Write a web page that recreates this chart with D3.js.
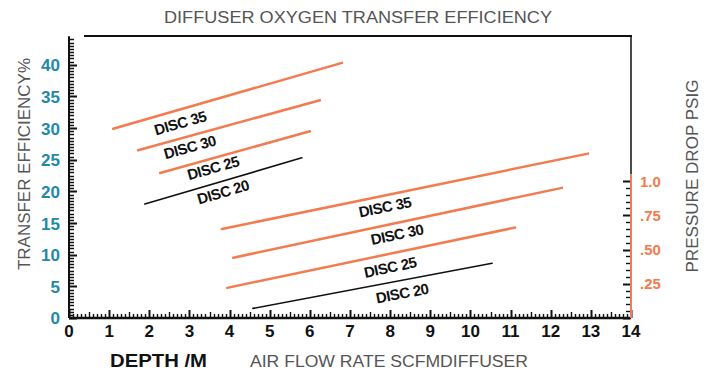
<!DOCTYPE html>
<html><head><meta charset="utf-8">
<script src="https://cdn.jsdelivr.net/npm/d3@7/dist/d3.min.js"></script>
<style>
body{margin:0;background:#fff;}
svg{display:block;font-family:"Liberation Sans",Arial,sans-serif;}
</style></head>
<body>
<svg id="c" width="706" height="373"></svg>
<script>
// ---- data ----
const seriesNames = ["DISC 35", "DISC 30", "DISC 25", "DISC 20"];
const seriesColors = ["#f37b4f", "#f37b4f", "#f37b4f", "#111111"];
// Transfer efficiency vs depth (m)
const depthStart = [1.10, 1.72, 2.27, 1.89];
const depthEnd = [6.80, 6.25, 6.00, 5.80];
const efficiencyStart = [29.9, 26.5, 22.9, 18.0];
const efficiencyEnd = [40.3, 34.4, 29.5, 25.3];
// Pressure drop vs air flow rate (scfm/diffuser)
const flowStart = [3.81, 4.09, 3.94, 4.58];
const flowEnd = [12.93, 12.28, 11.11, 10.54];
const pressureStart = [0.65, 0.44, 0.22, 0.07];
const pressureEnd = [1.20, 0.95, 0.66, 0.40];
// tick labels
const xTicks = [0,1,2,3,4,5,6,7,8,9,10,11,12,13,14];
const efficiencyTicks = [0,5,10,15,20,25,30,35,40];
const pressureTicks = [0.25, 0.50, 0.75, 1.0];
const pressureTickLabels = [".25", ".50", ".75", "1.0"];
// label anchors (data units)
const upperLabelX = [2.77, 3.01, 3.59, 3.84];
const upperLabelY = [30.8, 27.0, 23.7, 19.9];
const lowerLabelX = [7.87, 8.17, 8.00, 8.30];
const lowerLabelY = [0.81, 0.61, 0.37, 0.18];

// ---- layout ----
const svg = d3.select("#c");
const X0 = 69, X1 = 631, Y0 = 318;
const x = d3.scaleLinear().domain([0,14]).range([X0, X1]);
const y = d3.scaleLinear().domain([0,44.5]).range([Y0, Y0 - 44.5*6.33]);
const p = d3.scaleLinear().domain([0,1.05]).range([Y0, Y0 - 1.05*137]);

const teal = "#2389a5", orange = "#f37b4f", gray = "#555";

// title
svg.append("text").attr("x", 358).attr("y", 23).attr("text-anchor","middle")
  .attr("font-size", 16).attr("fill", gray)
  .attr("textLength", 388).attr("lengthAdjust","spacingAndGlyphs")
  .text("DIFFUSER OXYGEN TRANSFER EFFICIENCY");

// frame: top and right (upper part)
svg.append("line").attr("x1", 84).attr("x2", X1+1).attr("y1", 36).attr("y2", 36)
  .attr("stroke","#111").attr("stroke-width",2);
svg.append("line").attr("x1", X1).attr("x2", X1).attr("y1", 36).attr("y2", p(1.05))
  .attr("stroke","#111").attr("stroke-width",1.5);

// left axis line + ticks (inward)
svg.append("line").attr("x1", X0).attr("x2", X0).attr("y1", y(0)).attr("y2", y(44.5))
  .attr("stroke","#111").attr("stroke-width",2);
svg.append("g").selectAll("line").data(d3.range(0, 89, 1)).join("line")
  .attr("x1", X0).attr("x2", d => X0 + (d % 10 === 0 ? 8 : 5))
  .attr("y1", d => Math.round(y(d/2)) + 0.5).attr("y2", d => Math.round(y(d/2)) + 0.5)
  .attr("stroke","#111").attr("stroke-width", d => d % 10 === 0 ? 2 : 1.5);
svg.append("g").selectAll("text").data(efficiencyTicks).join("text")
  .attr("x", X0 - 9).attr("y", d => y(d)).attr("dy","0.38em").attr("text-anchor","end")
  .attr("font-size", 17).attr("font-weight","bold").attr("fill", teal)
  .text(d => d);

// bottom axis line + ticks (inward)
svg.append("line").attr("x1", X0).attr("x2", X1).attr("y1", Y0).attr("y2", Y0)
  .attr("stroke","#111").attr("stroke-width",2.4);
svg.append("g").selectAll("line").data(d3.range(0, 141, 1)).join("line")
  .attr("x1", d => Math.round(x(d/10)) + 0.5).attr("x2", d => Math.round(x(d/10)) + 0.5)
  .attr("y1", Y0).attr("y2", d => Y0 - (d % 10 === 0 ? 8 : d % 5 === 0 ? 6 : 4))
  .attr("stroke","#111").attr("stroke-width", d => d % 10 === 0 ? 2 : 1.4);
svg.append("g").selectAll("text").data(xTicks).join("text")
  .attr("x", d => x(d)).attr("y", Y0 + 19).attr("text-anchor","middle")
  .attr("font-size", 17).attr("font-weight","bold").attr("fill","#111")
  .text(d => d);

// right axis (pressure)
svg.append("line").attr("x1", X1).attr("x2", X1).attr("y1", p(0)).attr("y2", p(1.05))
  .attr("stroke", orange).attr("stroke-width",2);
svg.append("g").selectAll("line").data(d3.range(0, 21, 1)).join("line")
  .attr("x1", X1 - 1).attr("x2", d => X1 - (d % 5 === 0 ? 8 : 5))
  .attr("y1", d => Math.round(p(d/20)) + 0.5).attr("y2", d => Math.round(p(d/20)) + 0.5)
  .attr("stroke","#111").attr("stroke-width", d => d % 5 === 0 ? 2 : 1.4);
svg.append("g").selectAll("text").data(pressureTicks).join("text")
  .attr("x", X1 + 9).attr("y", d => p(d)).attr("dy","0.38em")
  .attr("font-size", 15).attr("font-weight","bold").attr("fill", orange)
  .text((d,i) => pressureTickLabels[i]);

// axis titles
svg.append("text").attr("transform","translate(30,164) rotate(-90)").attr("text-anchor","middle")
  .attr("font-size",16).attr("fill",gray).attr("textLength",212).attr("lengthAdjust","spacingAndGlyphs")
  .text("TRANSFER EFFICIENCY%");
svg.append("text").attr("transform","translate(698,176) rotate(-90)").attr("text-anchor","middle")
  .attr("font-size",16).attr("fill",gray).attr("textLength",193).attr("lengthAdjust","spacingAndGlyphs")
  .text("PRESSURE DROP PSIG");
svg.append("text").attr("x",110).attr("y",367).attr("font-size",18).attr("font-weight","bold")
  .attr("fill","#111").attr("textLength",97).attr("lengthAdjust","spacingAndGlyphs").text("DEPTH /M");
svg.append("text").attr("x",250).attr("y",367).attr("font-size",16)
  .attr("fill",gray).attr("textLength",278).attr("lengthAdjust","spacingAndGlyphs").text("AIR FLOW RATE SCFMDIFFUSER");

// lines and labels
seriesNames.forEach((name, i) => {
  svg.append("line")
    .attr("x1", x(depthStart[i])).attr("y1", y(efficiencyStart[i]))
    .attr("x2", x(depthEnd[i])).attr("y2", y(efficiencyEnd[i]))
    .attr("stroke", seriesColors[i]).attr("stroke-width", i === 3 ? 1.6 : 2.5)
    .attr("stroke-linecap","round");
  svg.append("line")
    .attr("x1", x(flowStart[i])).attr("y1", p(pressureStart[i]))
    .attr("x2", x(flowEnd[i])).attr("y2", p(pressureEnd[i]))
    .attr("stroke", seriesColors[i]).attr("stroke-width", i === 3 ? 1.6 : 2.5)
    .attr("stroke-linecap","round");
  const a1 = Math.atan2(y(efficiencyEnd[i]) - y(efficiencyStart[i]), x(depthEnd[i]) - x(depthStart[i])) * 180 / Math.PI;
  svg.append("text").attr("text-anchor","middle").attr("dy","0.35em")
    .attr("transform", `translate(${x(upperLabelX[i])},${y(upperLabelY[i])}) rotate(${a1})`)
    .attr("font-size",15).attr("font-weight","bold").attr("fill","#111").attr("letter-spacing",-0.5)
    .text(name);
  const a2 = Math.atan2(p(pressureEnd[i]) - p(pressureStart[i]), x(flowEnd[i]) - x(flowStart[i])) * 180 / Math.PI;
  svg.append("text").attr("text-anchor","middle").attr("dy","0.35em")
    .attr("transform", `translate(${x(lowerLabelX[i])},${p(lowerLabelY[i])}) rotate(${a2})`)
    .attr("font-size",15).attr("font-weight","bold").attr("fill","#111").attr("letter-spacing",-0.5)
    .text(name);
});
</script>
</body></html>
